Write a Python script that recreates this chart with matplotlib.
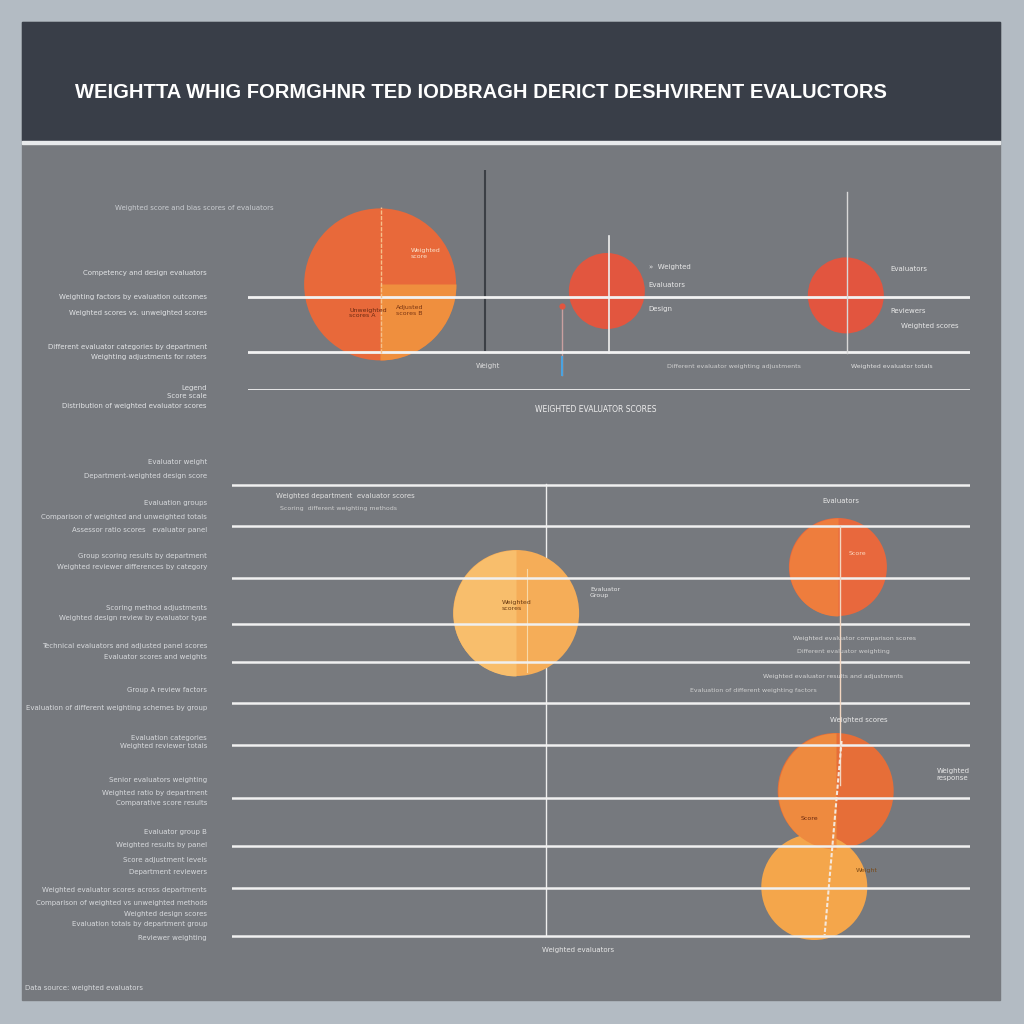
import matplotlib
matplotlib.use("Agg")
import matplotlib.pyplot as plt
from matplotlib.patches import Rectangle
from matplotlib.path import Path
import numpy as np

# ---------------- data ----------------
title = "WEIGHTTA WHIG FORMGHNR TED IODBRAGH DERICT DESHVIRENT EVALUCTORS"

# top panel bubbles: x score (0-100), y value (0-10), radius (px)
top_x = [18.3, 49.7, 82.8]
top_y = [4.8, 4.5, 4.3]
top_r = [76, 38, 38]
top_col = ["#e8693a", "#e2563f", "#e2553f"]
top_quarter = ["#ef8f3e", None, None]
top_grid = [4.23, 1.73, 0.0]

# bottom panel bubbles
bot_x = [38.5, 82.1, 81.8, 78.9]
bot_y = [32.7, 37.3, 14.9, 5.3]
bot_r = [63, 49, 58, 53]
bot_col = ["#f5ad58", "#e8683d", "#e66e38", "#f4a64b"]
bot_half = ["#f8be6c", "#ee7d3d", "#ee8a3f", None]
bot_grid = [45.5, 41.4, 36.2, 31.6, 27.8, 23.7, 19.5, 14.2, 9.4, 5.2, 0.4]

left_labels_top = [
    (208, "Weighted score and bias scores of evaluators", 115),
    (273, "Competency and design evaluators", None),
    (297, "Weighting factors by evaluation outcomes", None),
    (313, "Weighted scores vs. unweighted scores", None),
    (347, "Different evaluator categories by department", None),
    (357, "Weighting adjustments for raters", None),
    (388, "Legend", None),
    (396, "Score scale", None),
    (406, "Distribution of weighted evaluator scores", None),
]
left_labels_bot = [
    (462, "Evaluator weight"),
    (476, "Department-weighted design score"),
    (503, "Evaluation groups"),
    (517, "Comparison of weighted and unweighted totals"),
    (530, "Assessor ratio scores   evaluator panel"),
    (556, "Group scoring results by department"),
    (567, "Weighted reviewer differences by category"),
    (608, "Scoring method adjustments"),
    (618, "Weighted design review by evaluator type"),
    (646, "Technical evaluators and adjusted panel scores"),
    (657, "Evaluator scores and weights"),
    (690, "Group A review factors"),
    (708, "Evaluation of different weighting schemes by group"),
    (738, "Evaluation categories"),
    (746, "Weighted reviewer totals"),
    (780, "Senior evaluators weighting"),
    (793, "Weighted ratio by department"),
    (803, "Comparative score results"),
    (832, "Evaluator group B"),
    (845, "Weighted results by panel"),
    (860, "Score adjustment levels"),
    (872, "Department reviewers"),
    (890, "Weighted evaluator scores across departments"),
    (903, "Comparison of weighted vs unweighted methods"),
    (914, "Weighted design scores"),
    (924, "Evaluation totals by department group"),
    (938, "Reviewer weighting"),
]

# ---------------- figure ----------------
W = 1024
fig = plt.figure(figsize=(10.24, 10.24), dpi=100)
fig.patch.set_facecolor("#b3bbc3")

def fx(px):
    return px / W

def fy(py):
    return 1 - py / W

fig.patches.append(Rectangle((fx(22), fy(1000)), fx(978), (1000 - 22) / W,
                             transform=fig.transFigure, color="#76797e", zorder=-3))
fig.patches.append(Rectangle((fx(22), fy(140)), fx(978), (140 - 22) / W,
                             transform=fig.transFigure, color="#393e48", zorder=-2))
fig.patches.append(Rectangle((fx(22), fy(144)), fx(978), 3 / W,
                             transform=fig.transFigure, color="#e8eaec", zorder=-2))

fig.text(fx(75), fy(92), title, color="white", fontsize=14.5, fontweight="bold",
         family="Liberation Sans", va="center", ha="left")

def pts(r):
    d = 2 * r * 72 / 100.0
    return d * d

quarter = Path.wedge(270, 360)
left_half = Path.wedge(90, 270)

# ---------------- top panel ----------------
ax1 = fig.add_axes([fx(248), fy(390), (970 - 248) / W, (390 - 170) / W])
ax1.set_xlim(0, 100)
ax1.set_ylim(0, 10)
ax1.axis("off")
for g in top_grid:
    ax1.axhline(g, color="#f2f2f2", lw=2, zorder=3)
ax1.axvline(32.8, ymin=0.18, ymax=1.0, color="#3b3f45", lw=1.5, zorder=1)
ax1.axvline(50.0, ymin=0.17, ymax=0.70, color="#f0f0f0", lw=1.2, zorder=4)
ax1.axvline(83.0, ymin=0.17, ymax=0.90, color="#d8d8d8", lw=1.0, zorder=4)
ax1.axvline(43.5, ymin=0.07, ymax=0.38, color="#c9a0a0", lw=1.0, zorder=2)
ax1.plot([43.5, 43.5], [0.7, 1.5], color="#4aa3e0", lw=1.5, zorder=2)
ax1.scatter([43.5], [3.8], s=20, c="#e2553f", zorder=2, lw=0)
ax1.scatter(top_x, top_y, s=[pts(r) for r in top_r], c=top_col, zorder=2, lw=0)
for x, y, r, c in zip(top_x, top_y, top_r, top_quarter):
    if c:
        ax1.scatter([x], [y], s=[pts(r)], marker=quarter, c=c, zorder=2, lw=0)
ax1.axvline(18.4, ymin=0.17, ymax=0.83, color="#f6c08a", lw=1, ls=(0, (3, 1)), zorder=4)

ax1.text(22.5, 6.0, "Weighted\nscore", fontsize=4.5, color="#fbe3cc", zorder=5)
ax1.text(14.0, 3.3, "Unweighted\nscores A", fontsize=4.5, color="#6b2a12", zorder=5)
ax1.text(20.5, 3.4, "Adjusted\nscores B", fontsize=4.5, color="#7a3512", zorder=5)
ax1.text(55.5, 5.5, "»  Weighted", fontsize=5, color="#e8e8e8", zorder=5)
ax1.text(55.5, 4.7, "Evaluators", fontsize=5, color="#e8e8e8", zorder=5)
ax1.text(55.5, 3.6, "Design", fontsize=5, color="#e8e8e8", zorder=5)
ax1.text(89.0, 5.4, "Evaluators", fontsize=5, color="#e8e8e8", zorder=5)
ax1.text(89.0, 3.5, "Reviewers", fontsize=5, color="#e8e8e8", zorder=5)
ax1.text(90.5, 2.8, "Weighted scores", fontsize=5, color="#e8e8e8", zorder=5)
ax1.text(31.5, 1.0, "Weight", fontsize=5, color="#dcdcdc", zorder=5)
ax1.text(58.0, 1.0, "Different evaluator weighting adjustments", fontsize=4.5,
         color="#d0d0d0", zorder=5)
ax1.text(83.5, 1.0, "Weighted evaluator totals", fontsize=4.5, color="#e0e0e0", zorder=5)
fig.text(fx(596), fy(410), "WEIGHTED EVALUATOR SCORES", fontsize=5.5,
         color="#eeeeee", ha="center", va="center")

# ---------------- bottom panel ----------------
ax2 = fig.add_axes([fx(232), fy(940), (970 - 232) / W, (940 - 470) / W])
ax2.set_xlim(0, 100)
ax2.set_ylim(0, 47)
ax2.axis("off")
for g in bot_grid:
    ax2.axhline(g, color="#f0f0f0", lw=1.8, zorder=3)
ax2.axvline(42.5, ymin=0.01, ymax=0.97, color="#eeeeee", lw=1.0, zorder=1)
ax2.scatter(bot_x, bot_y, s=[pts(r) for r in bot_r], c=bot_col, zorder=2, lw=0)
for x, y, r, c in zip(bot_x, bot_y, bot_r, bot_half):
    if c:
        ax2.scatter([x], [y], s=[pts(r)], marker=left_half, c=c, zorder=2, lw=0)
ax2.axvline(82.4, ymin=0.33, ymax=0.88, color="#f3d6c0", lw=1.0, zorder=4)
ax2.plot([82.6, 80.3], [19.9, 0.5], color="#f5e8dc", lw=1.5, ls=(0, (2, 1)), zorder=4)
ax2.axvline(40.0, ymin=0.57, ymax=0.79, color="#f8d9a8", lw=0.8, zorder=2)

ax2.text(36.5, 33.0, "Weighted\nscores", fontsize=4.5, color="#6a3a12", zorder=5)
ax2.text(48.5, 34.3, "Evaluator\nGroup", fontsize=4.5, color="#e8e8e8", zorder=5)
ax2.text(80.0, 43.7, "Evaluators", fontsize=5, color="#e8e8e8", zorder=5)
ax2.text(83.5, 38.5, "Score", fontsize=4.5, color="#fbd9c0", zorder=5)
ax2.text(81.0, 21.8, "Weighted scores", fontsize=5, color="#e8e8e8", zorder=5)
ax2.text(95.5, 16.0, "Weighted\nresponse", fontsize=5, color="#e8e8e8", zorder=5)
ax2.text(77.0, 12.0, "Score", fontsize=4.5, color="#6a2a10", zorder=5)
ax2.text(84.5, 6.8, "Weight", fontsize=4.5, color="#7a4a18", zorder=5)
ax2.text(6.0, 44.2, "Weighted department  evaluator scores", fontsize=5,
         color="#e0e0e0", zorder=5)
ax2.text(6.5, 43.0, "Scoring  different weighting methods", fontsize=4.5,
         color="#cfcfcf", zorder=5)
ax2.text(76.0, 30.0, "Weighted evaluator comparison scores", fontsize=4.5,
         color="#d8d8d8", zorder=5)
ax2.text(76.5, 28.7, "Different evaluator weighting", fontsize=4.5,
         color="#cfcfcf", zorder=5)
ax2.text(72.0, 26.2, "Weighted evaluator results and adjustments", fontsize=4.5,
         color="#d6d6d6", zorder=5)
ax2.text(62.0, 24.8, "Evaluation of different weighting factors", fontsize=4.5,
         color="#cfcfcf", zorder=5)
fig.text(fx(578), fy(950), "Weighted evaluators", fontsize=5, color="#e6e6e6",
         ha="center", va="center")

# ---------------- left labels ----------------
for py, txt, xl in left_labels_top:
    if xl:
        fig.text(fx(xl), fy(py), txt, fontsize=5, color="#c9ccd0", ha="left", va="center")
    else:
        fig.text(fx(207), fy(py), txt, fontsize=5, color="#e2e4e6", ha="right", va="center")
for py, txt in left_labels_bot:
    fig.text(fx(207), fy(py), txt, fontsize=5, color="#d8dadd", ha="right", va="center")
fig.text(fx(25), fy(988), "Data source: weighted evaluators", fontsize=5,
         color="#d8dadd", ha="left", va="center")

fig.savefig("out.png", dpi=100, facecolor=fig.get_facecolor())
